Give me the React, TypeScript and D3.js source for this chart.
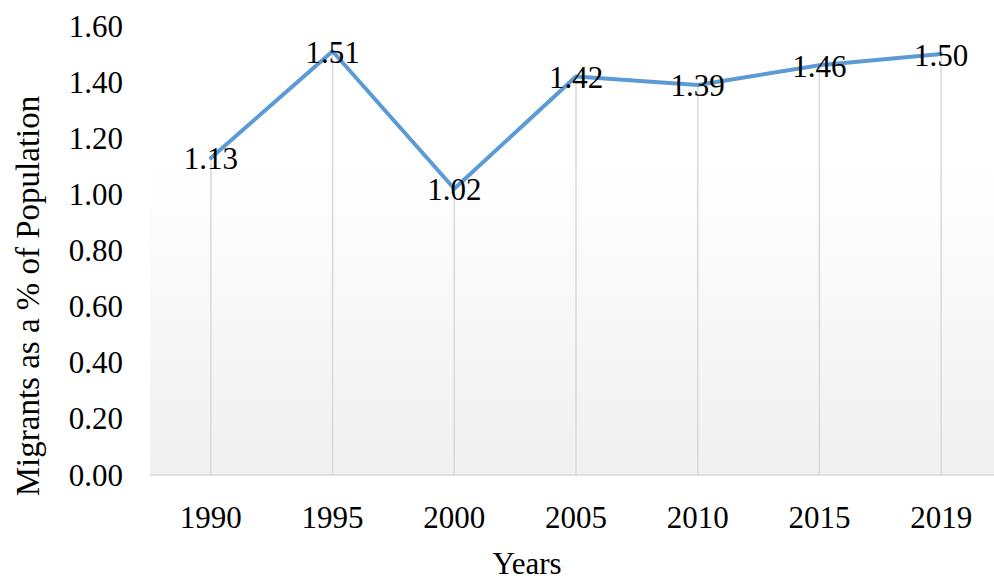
import React from 'react';
import * as d3 from 'd3';

const years = ['1990', '1995', '2000', '2005', '2010', '2015', '2019'];
const values = [1.13, 1.51, 1.02, 1.42, 1.39, 1.46, 1.5];
const yTicks = [0, 0.2, 0.4, 0.6, 0.8, 1.0, 1.2, 1.4, 1.6];

const width = 994;
const height = 581;
const plot = { left: 150, right: 1002, top: 26, bottom: 475 };
const font = 'Liberation Serif, DejaVu Serif, serif';

const App = () => {
  const x = d3.scaleBand<string>()
    .domain(years)
    .range([plot.left, plot.right]);
  const y = d3.scaleLinear()
    .domain([0, 1.6])
    .range([plot.bottom, plot.top]);

  const cx = (d: string) => (x(d) as number) + x.bandwidth() / 2;

  const line = d3.line<number>()
    .x((_, i) => cx(years[i]))
    .y(d => y(d));

  return (
    <svg width={width} height={height} style={{ position: 'absolute', left: 0, top: 0 }}>
      <defs>
        <linearGradient id="bg" x1="0" y1="0" x2="0" y2="1">
          <stop offset="0%" stopColor="#ffffff" />
          <stop offset="30%" stopColor="#ffffff" />
          <stop offset="100%" stopColor="#f0f0f0" />
        </linearGradient>
      </defs>
      <rect x={0} y={0} width={width} height={height} fill="#fff" />
      <rect x={plot.left} y={plot.top} width={plot.right - plot.left}
        height={plot.bottom - plot.top} fill="url(#bg)" />

      {/* drop lines */}
      {values.map((v, i) => (
        <line key={years[i]} x1={cx(years[i])} x2={cx(years[i])}
          y1={y(v)} y2={plot.bottom} stroke="#d9d9d9" strokeWidth={1.5} />
      ))}

      {/* x axis line */}
      <line x1={plot.left} x2={plot.right} y1={plot.bottom} y2={plot.bottom}
        stroke="#d9d9d9" strokeWidth={1.5} />

      <path d={line(values) || ''} fill="none" stroke="#5b9bd5" strokeWidth={4}
        strokeLinejoin="round" strokeLinecap="round" />

      <g style={{ fontFamily: font, fontSize: '31px' }} fill="#000">
        {yTicks.map(t => (
          <text key={t} x={123} y={y(t)} textAnchor="end" dominantBaseline="central">
            {t.toFixed(2)}
          </text>
        ))}
        {years.map(yr => (
          <text key={yr} x={cx(yr)} y={517} textAnchor="middle" dominantBaseline="central">
            {yr}
          </text>
        ))}
        {values.map((v, i) => (
          <text key={'l' + i} x={cx(years[i])} y={y(v) + 1} textAnchor="middle"
            dominantBaseline="central">
            {v.toFixed(2)}
          </text>
        ))}
        <text x={527} y={563} textAnchor="middle" dominantBaseline="central">Years</text>
        <text transform={`translate(28, 296) rotate(-90)`} textAnchor="middle"
          dominantBaseline="central" style={{ fontSize: '33px' }}>
          Migrants as a % of Population
        </text>
      </g>
    </svg>
  );
};

export default App;
